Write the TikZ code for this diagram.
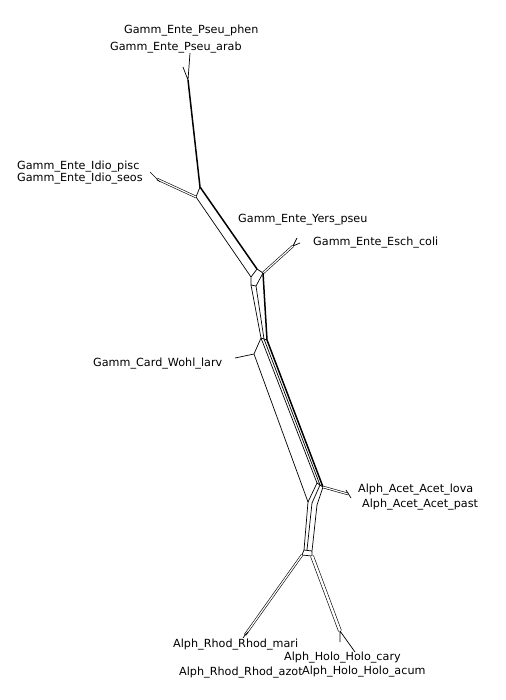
\documentclass[tikz,border=0pt]{standalone}
\usepackage{fontspec}
\newfontfamily\taxonfont{DejaVu Sans}
\begin{document}
\begin{tikzpicture}[x=1pt,y=-1pt,
 edge/.style={line width=.7pt},
 heavy/.style={line width=1.5pt},
 pair/.style={double,double distance=1.2pt,line width=.6pt},
 taxon/.style={anchor=base west,inner sep=0pt,font={\taxonfont\fontsize{11.2}{13}\selectfont}}]
 \useasboundingbox (0,0) rectangle (505,700);
 % vertices of the network
 \coordinate (ta) at (190,53); \coordinate (tb) at (183,67); \coordinate (p0) at (188,80);
 \coordinate (a) at (200,187); \coordinate (b) at (196,197);
 \coordinate (i0) at (157,179); \coordinate (i1) at (150,172); \coordinate (i2) at (160,182);
 \coordinate (c) at (257,269); \coordinate (d) at (251,277); \coordinate (e) at (263,273);
 \coordinate (f) at (251,285); \coordinate (g) at (256,286);
 \coordinate (y0) at (293,246); \coordinate (y1) at (297,238); \coordinate (y2) at (300,243);
 \coordinate (w1) at (261,338); \coordinate (w1b) at (264,339); \coordinate (w1c) at (267,340);
 \coordinate (w2) at (254,354); \coordinate (wl) at (235,358);
 \coordinate (k2) at (317,483); \coordinate (k3) at (320,485); \coordinate (k4) at (323,487);
 \coordinate (n1) at (308,502); \coordinate (n2) at (312,503); \coordinate (n3) at (317,505);
 \coordinate (q0) at (348,494); \coordinate (q1) at (346,490); \coordinate (q2) at (351,498);
 \coordinate (r1) at (304,550); \coordinate (r2) at (307,550); \coordinate (r3) at (312,551);
 \coordinate (s1) at (302,555); \coordinate (s2) at (312,556);
 \coordinate (rh0) at (245,635); \coordinate (rh1) at (243,638); \coordinate (rh2) at (248,632);
 \coordinate (ho0) at (340,631); \coordinate (ho1) at (340,642); \coordinate (ho2) at (355,652);
 % edges
 \draw[edge] (ta)--(p0) (tb)--(p0);
 \draw[heavy] (p0)--(a);
 \draw[edge] (a)--(b);
 \draw[pair] (b)--(i0);
 \draw[edge] (i0)--(i1) (i0)--(i2);
 \draw[heavy] (a)--(c);
 \draw[edge] (b)--(d) (c)--(d) (c)--(e) (d)--(f) (f)--(g) (g)--(e);
 \draw[pair] (e)--(y0);
 \draw[edge] (y0)--(y1) (y0)--(y2);
 \draw[edge] (f)--(w1) (g)--(w1b) (w1)--(w1c) (w1)--(w2) (w2)--(wl);
 \draw[heavy] (e)--(w1c);
 \draw[edge] (w2)--(n1) (w1)--(k2) (w1b)--(k3);
 \draw[heavy] (w1c)--(k4);
 \draw[edge] (k2)--(k4) (k2)--(n1) (k3)--(n2) (k4)--(n3);
 \draw[pair] (k4)--(q0);
 \draw[edge] (q1)--(q2);
 \draw[edge] (n1)--(r1) (n2)--(r2) (n3)--(r3) (r1)--(r3) (r1)--(s1) (r3)--(s2) (s1)--(s2);
 \draw[pair] (s1)--(rh0);
 \draw[edge] (rh0)--(rh1) (rh0)--(rh2);
 \draw[pair,double distance=2.4pt] (s2)--(ho0);
 \draw[edge] (ho0)--(ho1) (ho0)--(ho2);
 % taxa
 \node[taxon] (phen) at (124,34) {Gamm\_Ente\_Pseu\_phen};
 \node[taxon] (arab) at (110,51) {Gamm\_Ente\_Pseu\_arab};
 \node[taxon] (pisc) at (17,170) {Gamm\_Ente\_Idio\_pisc};
 \node[taxon] (seos) at (17,182) {Gamm\_Ente\_Idio\_seos};
 \node[taxon] (yers) at (238,223) {Gamm\_Ente\_Yers\_pseu};
 \node[taxon] (esch) at (313,245) {Gamm\_Ente\_Esch\_coli};
 \node[taxon] (wohl) at (93,366) {Gamm\_Card\_Wohl\_larv};
 \node[taxon] (lova) at (358,492) {Alph\_Acet\_Acet\_lova};
 \node[taxon] (past) at (362,507) {Alph\_Acet\_Acet\_past};
 \node[taxon] (mari) at (173,647) {Alph\_Rhod\_Rhod\_mari};
 \node[taxon] (cary) at (284,660) {Alph\_Holo\_Holo\_cary};
 \node[taxon] (azot) at (179,675) {Alph\_Rhod\_Rhod\_azot};
 \node[taxon] (acum) at (302,674) {Alph\_Holo\_Holo\_acum};
\end{tikzpicture}
\end{document}
